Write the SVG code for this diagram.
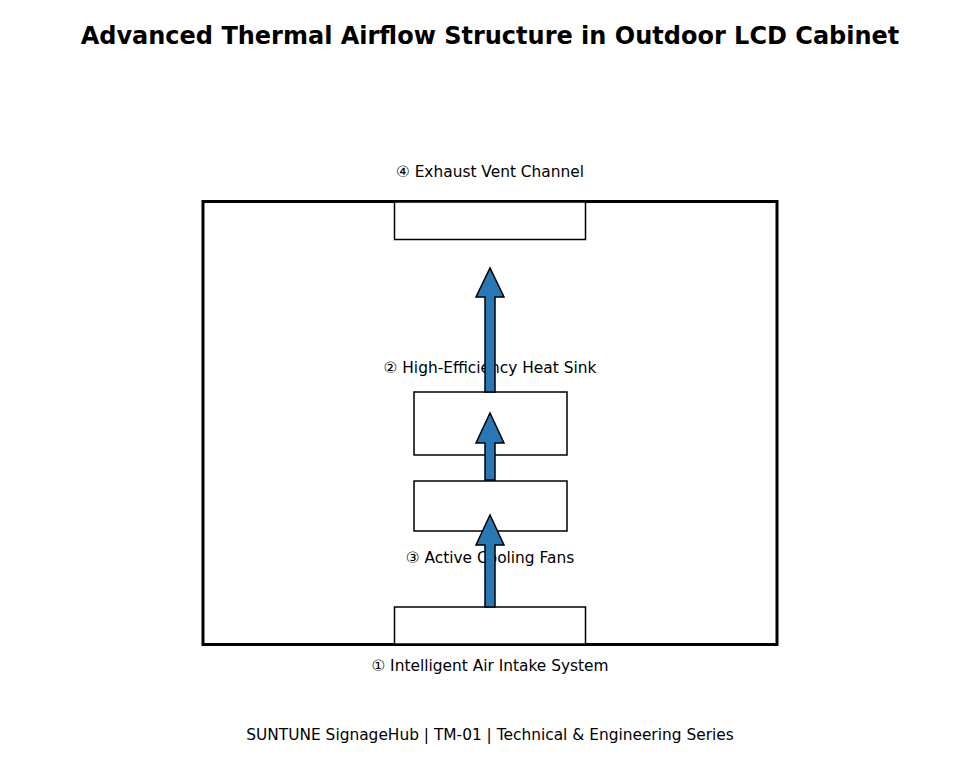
<svg xmlns="http://www.w3.org/2000/svg" width="980" height="784" viewBox="0 0 980 784">
<style>
text{font-family:"DejaVu Sans",sans-serif;fill:#000;text-anchor:middle}
.lbl{font-size:15.4px}
.box{fill:#fff;stroke:#000;stroke-width:1.5}
.arr{fill:#2878b5;stroke:#000;stroke-width:1.5;stroke-linejoin:miter}
</style>
<rect width="980" height="784" fill="#fff"/>
<text x="490" y="44" style="font-size:24px;font-weight:bold">Advanced Thermal Airflow Structure in Outdoor LCD Cabinet</text>
<g id="cabinet"><rect x="203" y="201.5" width="574" height="443" fill="none" stroke="#000" stroke-width="3"/></g>
<g id="exhaust"><rect class="box" x="394.5" y="202" width="191" height="37.5"/><text class="lbl" x="490" y="177">④ Exhaust Vent Channel</text></g>
<g id="intake"><rect class="box" x="394.5" y="607" width="191" height="37"/><text class="lbl" x="490" y="671">① Intelligent Air Intake System</text></g>
<g id="fans"><rect class="box" x="414" y="481" width="153" height="50"/><text class="lbl" x="490" y="563">③ Active Cooling Fans</text></g>
<g id="heatsink"><rect class="box" x="414" y="392" width="153" height="63"/><text class="lbl" x="490" y="373">② High-Efficiency Heat Sink</text></g>
<g id="connectors">
<path class="arr" d="M485,607 V545 H476 L490,515 L504,545 H495 V607 Z"/>
<path class="arr" d="M485,480 V443 H476 L490,413 L504,443 H495 V480 Z"/>
<path class="arr" d="M485,392 V297 H476 L490,268 L504,297 H495 V392 Z"/>
</g>
<text class="lbl" x="490" y="740">SUNTUNE SignageHub | TM-01 | Technical &amp; Engineering Series</text>
</svg>
